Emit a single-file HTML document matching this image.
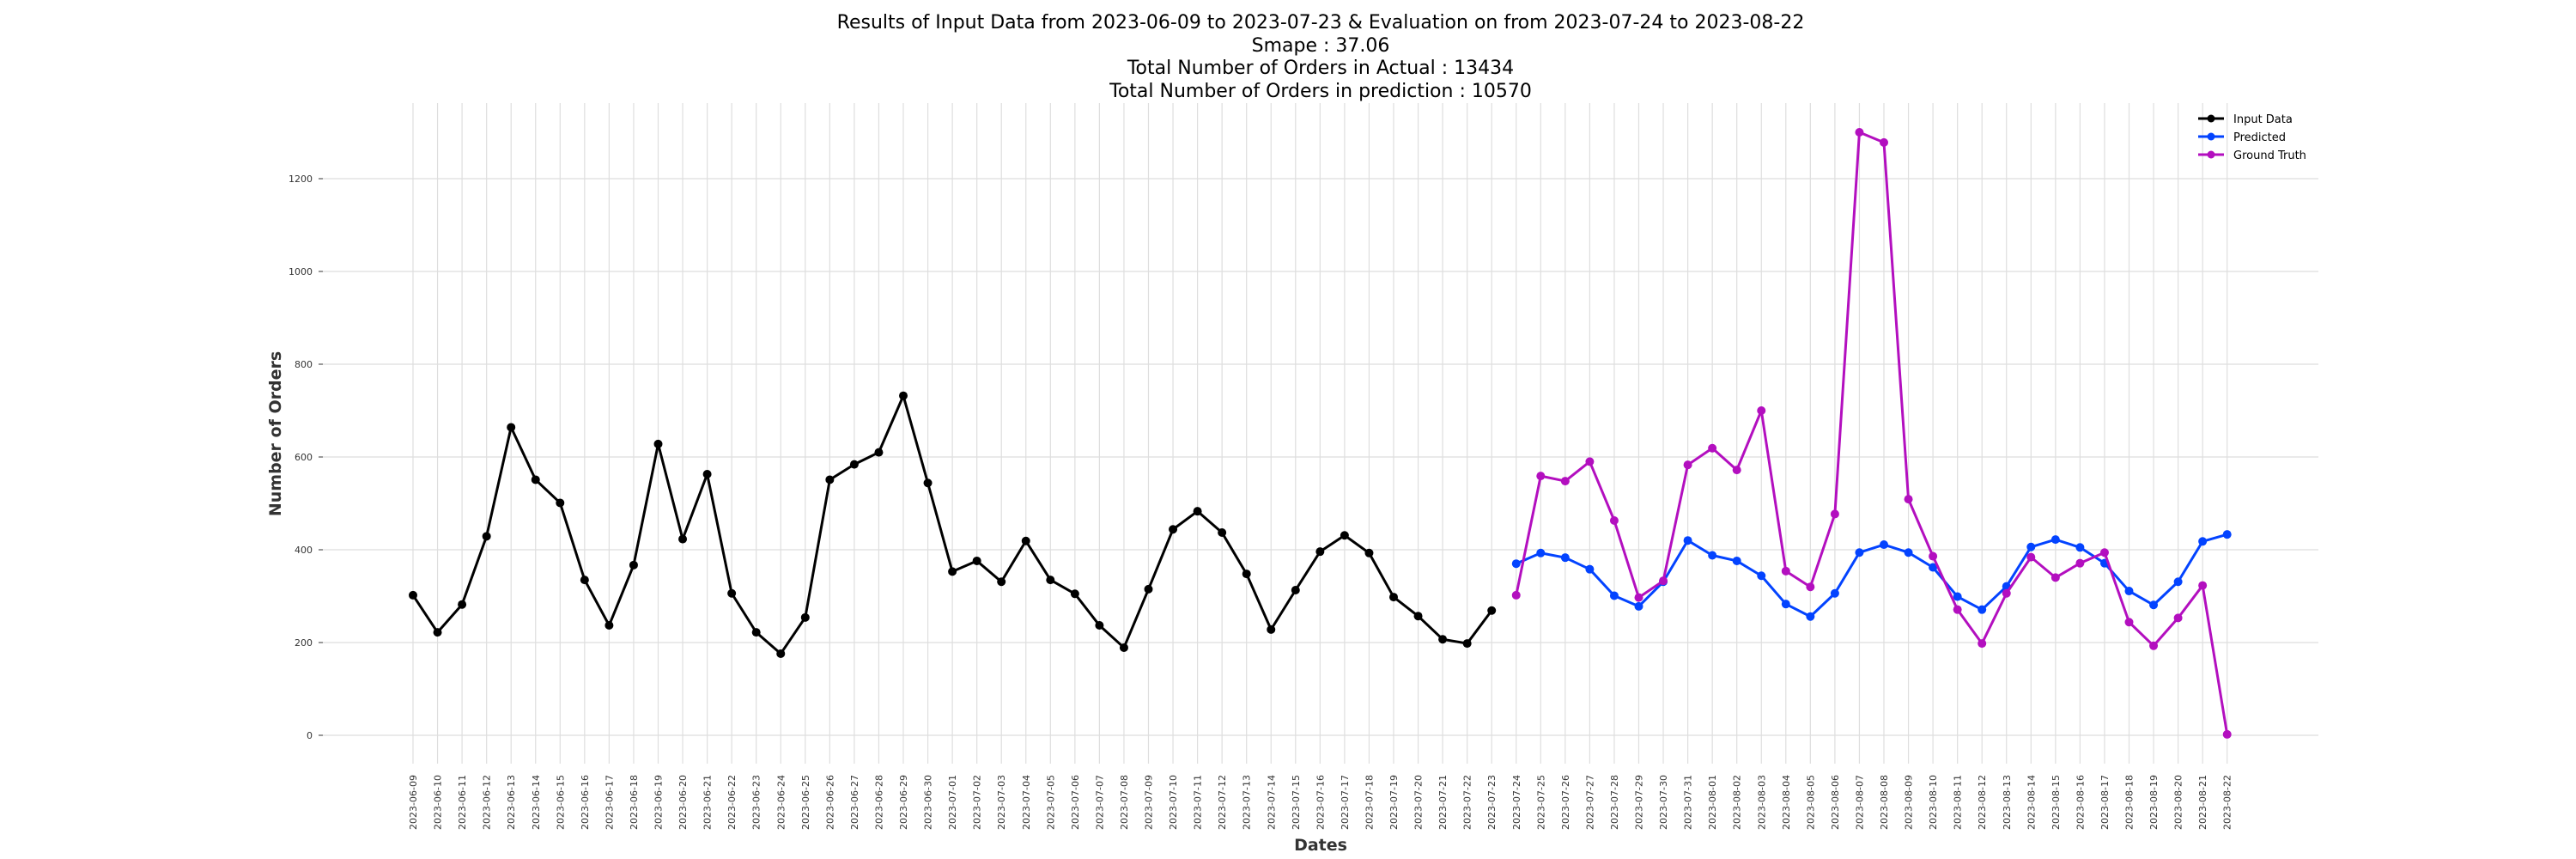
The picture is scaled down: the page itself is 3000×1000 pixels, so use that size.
<!DOCTYPE html>
<html><head><meta charset="utf-8"><style>
html,body{margin:0;padding:0;background:#fff;}
svg{display:block;font-family:"DejaVu Sans","Liberation Sans",sans-serif;}
</style></head><body>
<svg id="chart" width="3000" height="1000" viewBox="0 0 3000 1000">
<g font-size="22" text-anchor="middle" fill="#000">
<text x="1538" y="33">Results of Input Data from 2023-06-09 to 2023-07-23 &amp; Evaluation on from 2023-07-24 to 2023-08-22</text>
<text x="1538" y="60">Smape : 37.06</text>
<text x="1538" y="86">Total Number of Orders in Actual : 13434</text>
<text x="1538" y="113">Total Number of Orders in prediction : 10570</text>
</g>
<g id="grid"></g>
<g id="yaxis"></g>
<g id="xaxis"></g>
<g id="series"></g>
<text x="1538" y="990" font-size="19" font-weight="bold" text-anchor="middle" fill="#333">Dates</text>
<text transform="translate(327,505) rotate(-90)" font-size="19" font-weight="bold" text-anchor="middle" fill="#333">Number of Orders</text>
<g font-size="13" fill="#000">
<g><line x1="2560" y1="138" x2="2590" y2="138" stroke="#000" stroke-width="3"/><circle cx="2575" cy="138" r="4.5" fill="#000"/><text x="2601" y="143">Input Data</text></g>
<g><line x1="2560" y1="159" x2="2590" y2="159" stroke="#0343ff" stroke-width="3"/><circle cx="2575" cy="159" r="4.5" fill="#0343ff"/><text x="2601" y="164">Predicted</text></g>
<g><line x1="2560" y1="180" x2="2590" y2="180" stroke="#b30fbf" stroke-width="3"/><circle cx="2575" cy="180" r="4.5" fill="#b30fbf"/><text x="2601" y="185">Ground Truth</text></g>
</g>
</svg>
<script>
const inputValues = [302,222,282,429,664,551,501,335,237,367,628,423,563,306,222,176,254,551,584,610,732,544,353,376,331,419,335,305,237,189,315,444,483,437,348,228,313,396,431,393,298,257,207,198,269];
const predictedValues = [370,393,383,358,301,278,331,420,388,376,344,283,256,306,394,411,394,362,299,271,321,406,422,405,371,311,281,331,418,433];
const groundTruthValues = [302,559,548,590,463,297,333,583,619,572,700,354,320,477,1300,1278,509,386,271,198,306,384,340,371,394,244,193,253,323,2];
const yTicks = [0,200,400,600,800,1000,1200];
const startDate = "2023-06-09";
const dayCount = 75;

const NS = "http://www.w3.org/2000/svg";
const dates = [];
(function(){const d0=new Date(startDate+"T00:00:00Z");for(let i=0;i<dayCount;i++){const d=new Date(d0.getTime()+i*86400000);dates.push(d.toISOString().slice(0,10));}})();
const x = i => 481 + i*28.55;
const y = v => 856 - v*0.54;
function mk(tag, attrs, parent){const e=document.createElementNS(NS,tag);for(const k in attrs)e.setAttribute(k,attrs[k]);parent.appendChild(e);return e;}
const grid=document.getElementById('grid'), ya=document.getElementById('yaxis'), xa=document.getElementById('xaxis'), ser=document.getElementById('series');
yTicks.forEach(t=>{
  const l=mk('line',{x1:376,x2:2700,y1:y(t),y2:y(t),stroke:'#dedede','stroke-width':1.2},grid);
  
  
  const tk=mk('line',{x1:371,x2:376,y1:y(t),y2:y(t),stroke:'#333','stroke-width':1},ya);
  
  
  const tx=mk('text',{x:364,y:y(t)+4,'font-size':11,'text-anchor':'end',fill:'#333'},ya);
  
  
  tx.textContent=t;
});
dates.forEach((d,i)=>{
  const l=mk('line',{x1:x(i),x2:x(i),y1:120,y2:889,stroke:'#dedede','stroke-width':1.2},grid);
  
  
  const tx=mk('text',{transform:`translate(${x(i)+4},902) rotate(-90)`,'font-size':11,'text-anchor':'end',fill:'#333'},xa);
  
  
  tx.textContent=d;
});
function series(vals, offset, color, name){
  const g=mk('g',{},ser);
  
  
  const pts=vals.map((v,i)=>x(i+offset)+','+y(v)).join(' ');
  const pl=mk('polyline',{points:pts,fill:'none',stroke:color,'stroke-width':3,'stroke-linejoin':'round'},g);
  
  
  vals.forEach((v,i)=>{
    const c=mk('circle',{cx:x(i+offset),cy:y(v),r:5,fill:color},g);
    
    
  });
}
series(inputValues,0,'#000','input-data-series');
series(predictedValues,45,'#0343ff','predicted-series');
series(groundTruthValues,45,'#b30fbf','ground-truth-series');
</script>
</body></html>
